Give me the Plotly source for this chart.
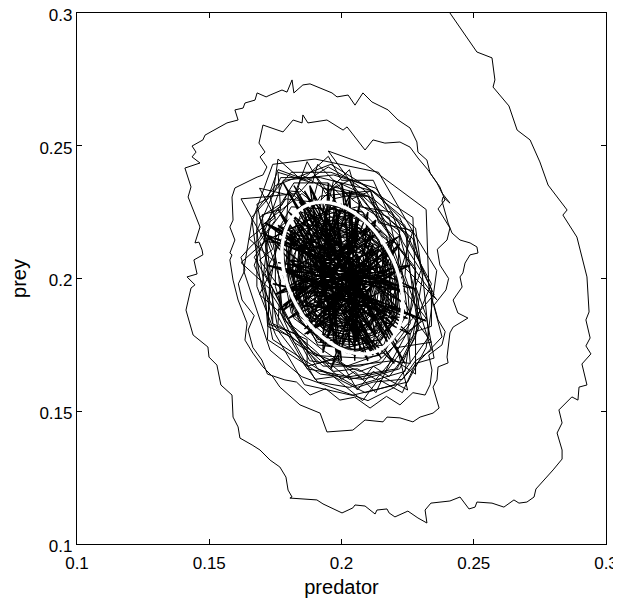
import plotly.graph_objects as go

# ---- outer ring of the trajectory ----
ring1_predator = [0.2395,0.2410,0.2512,0.2569,0.2580,0.2573,0.2633,0.2664,0.2713,0.2750,
0.2781,0.2853,0.2837,0.2890,0.2928,0.2932,0.2936,0.2924,0.2940,0.2924,
0.2943,0.2909,0.2928,0.2898,0.2894,0.2871,0.2822,0.2834,0.2815,0.2834,
0.2834,0.2800,0.2735,0.2728,0.2701,0.2671,0.2652,0.2614,0.2569,0.2512,
0.2505,0.2482,0.2448,0.2410,0.2338,0.2316,0.2323,0.2289,0.2251,0.2202,
0.2180,0.2172,0.2134,0.2127,0.2089,0.2051,0.2043,0.2002,0.1930,0.1907,
0.1805,0.1813,0.1798,0.1790,0.1767,0.1730,0.1692,0.1662,0.1616,0.1609,
0.1590,0.1586,0.1544,0.1529,0.1499,0.1495,0.1439,0.1412,0.1431,0.1446,
0.1416,0.1454,0.1442,0.1476,0.1473,0.1461,0.1446,0.1465,0.1435,0.1420,
0.1431,0.1408,0.1465,0.1435,0.1450,0.1435,0.1476,0.1484,0.1567,0.1609,
0.1597,0.1628,0.1635,0.1673,0.1681,0.1715,0.1730,0.1775,0.1794,0.1813,
0.1820,0.1854,0.1881]
ring1_prey = [0.3038,0.3000,0.2853,0.2831,0.2748,0.2721,0.2650,0.2559,0.2522,0.2439,
0.2352,0.2258,0.2239,0.2156,0.2006,0.1930,0.1874,0.1844,0.1776,0.1746,
0.1716,0.1678,0.1599,0.1591,0.1542,0.1554,0.1505,0.1456,0.1418,0.1354,
0.1320,0.1279,0.1207,0.1177,0.1158,0.1154,0.1166,0.1139,0.1154,0.1158,
0.1139,0.1132,0.1177,0.1162,0.1154,0.1128,0.1079,0.1098,0.1124,0.1102,
0.1117,0.1132,0.1128,0.1113,0.1143,0.1147,0.1136,0.1117,0.1151,0.1166,
0.1173,0.1177,0.1203,0.1252,0.1290,0.1316,0.1354,0.1373,0.1399,0.1441,
0.1478,0.1561,0.1599,0.1674,0.1704,0.1742,0.1787,0.1881,0.1964,0.1976,
0.2006,0.2017,0.2070,0.2089,0.2107,0.2137,0.2134,0.2194,0.2269,0.2307,
0.2345,0.2416,0.2435,0.2458,0.2476,0.2499,0.2522,0.2540,0.2586,0.2597,
0.2635,0.2642,0.2661,0.2672,0.2699,0.2684,0.2691,0.2710,0.2702,0.2748,
0.2699,0.2729,0.2733]

# ---- second ring ----
ring2_predator = [0.1964,0.1983,0.2025,0.2051,0.2081,0.2115,0.2176,0.2214,0.2259,0.2285,
0.2289,0.2323,0.2335,0.2361,0.2380,0.2410,0.2384,0.2380,0.2391,0.2403,
0.2418,0.2448,0.2486,0.2512,0.2516,0.2486,0.2467,0.2459,0.2448,0.2456,
0.2422,0.2440,0.2478,0.2448,0.2422,0.2410,0.2399,0.2403,0.2365,0.2361,
0.2346,0.2369,0.2346,0.2297,0.2270,0.2221,0.2172,0.2157,0.2089,0.2043,
0.1945,0.1919,0.1843,0.1767,0.1741,0.1703,0.1665,0.1635,0.1643,0.1609,
0.1590,0.1578,0.1586,0.1578,0.1597,0.1578,0.1590,0.1586,0.1597,0.1681,
0.1703,0.1718,0.1692,0.1711,0.1688,0.1703,0.1779,0.1817,0.1851,0.1854,
0.1873,0.1945,0.2006,0.2021,0.2059,0.2089,0.2119,0.2164,0.2221,0.2259,
0.2289,0.2327,0.2346,0.2372]
ring2_prey = [0.2699,0.2684,0.2691,0.2653,0.2699,0.2665,0.2635,0.2597,0.2567,0.2514,
0.2476,0.2446,0.2397,0.2360,0.2322,0.2284,0.2307,0.2292,0.2247,0.2209,
0.2171,0.2145,0.2134,0.2119,0.2096,0.2089,0.2058,0.2021,0.2006,0.1968,
0.1919,0.1870,0.1851,0.1832,0.1817,0.1795,0.1704,0.1682,0.1667,0.1618,
0.1591,0.1512,0.1493,0.1478,0.1460,0.1475,0.1478,0.1460,0.1467,0.1429,
0.1422,0.1493,0.1524,0.1591,0.1629,0.1667,0.1719,0.1768,0.1832,0.1919,
0.1994,0.2070,0.2089,0.2096,0.2145,0.2194,0.2220,0.2307,0.2341,0.2382,
0.2390,0.2420,0.2458,0.2476,0.2510,0.2578,0.2552,0.2597,0.2586,0.2616,
0.2586,0.2597,0.2559,0.2571,0.2522,0.2484,0.2522,0.2510,0.2514,0.2495,
0.2454,0.2409,0.2382,0.2345]

# ---- third ring ----
ring3_predator = [0.2391,0.2365,0.2380,0.2410,0.2399,0.2362,0.2372,0.2405,0.2395,0.2350,
0.2365,0.2392,0.2380,0.2330,0.2342,0.2335,0.2316,0.2270,0.2221,0.2170,
0.2108,0.2050,0.1994,0.1940,0.1881,0.1830,0.1786,0.1720,0.1699,0.1665,
0.1647,0.1670,0.1624,0.1610,0.1635,0.1620,0.1662,0.1690,0.1711,0.1740,
0.1775,0.1800,0.1843,0.1900]
ring3_prey = [0.2296,0.2262,0.2239,0.2190,0.2145,0.2110,0.2051,0.2000,0.1957,0.1900,
0.1844,0.1800,0.1750,0.1712,0.1655,0.1600,0.1561,0.1570,0.1524,0.1556,
0.1512,0.1553,0.1542,0.1585,0.1561,0.1610,0.1618,0.1640,0.1693,0.1740,
0.1806,0.1860,0.1919,0.1980,0.2032,0.2080,0.2126,0.2150,0.2202,0.2250,
0.2277,0.2330,0.2326,0.2390]

# ---- jagged fringe loops just outside the white orbit ----
fringe_predator = [
0.232,0.225,0.226,0.219,0.213,0.206,0.197,0.191,0.184,0.178,0.173,0.172,
0.169,0.175,0.173,0.183,0.185,0.195,0.203,0.208,0.218,0.220,0.228,0.228,
0.230,0.234,0.228,0.223,0.212,0.206,0.199,0.191,0.183,0.172,0.171,0.167,
0.171,0.168,0.172,0.176,0.187,0.195,0.202,0.209,0.216,0.227,0.230,0.234,
0.234,0.228,0.228,0.219,0.213,0.205,0.200,0.190,0.182,0.177,0.169,0.175,
0.165,0.175,0.169,0.182,0.187,0.194,0.203,0.207,0.219,0.223,0.230,0.228,
0.232,0.235,0.228,0.223,0.214,0.208,0.197,0.190,0.181,0.172,0.173,0.162,
0.171,0.162,0.174,0.176,0.185,0.195,0.200,0.212,0.218,0.227,0.230,0.235,
0.229,0.228,0.224,0.218,0.212,0.208,0.197,0.191,0.183,0.177,0.177,0.169,
0.174,0.169,0.177,0.182,0.187,0.195,0.200,0.210,0.217,0.222,0.226,0.228,
0.226,0.234,0.221,0.225,0.212,0.206,0.199,0.187,0.187,0.174,0.174,0.167,
0.171,0.170,0.177,0.176,0.189,0.191,0.204,0.211,0.214,0.227,0.223,0.236]
fringe_prey = [
0.185,0.180,0.168,0.169,0.162,0.166,0.165,0.172,0.178,0.187,0.195,0.206,
0.214,0.222,0.231,0.232,0.239,0.233,0.237,0.227,0.223,0.214,0.204,0.196,
0.186,0.173,0.169,0.162,0.161,0.159,0.163,0.166,0.179,0.183,0.196,0.205,
0.215,0.228,0.230,0.241,0.237,0.242,0.238,0.233,0.224,0.215,0.205,0.196,
0.182,0.180,0.164,0.170,0.157,0.165,0.162,0.171,0.176,0.187,0.194,0.206,
0.215,0.223,0.234,0.231,0.244,0.232,0.241,0.227,0.225,0.214,0.203,0.197,
0.186,0.170,0.168,0.157,0.162,0.154,0.163,0.162,0.178,0.182,0.196,0.206,
0.214,0.230,0.231,0.245,0.237,0.246,0.237,0.237,0.224,0.217,0.204,0.194,
0.187,0.178,0.171,0.163,0.167,0.162,0.170,0.168,0.178,0.187,0.196,0.207,
0.211,0.223,0.228,0.236,0.236,0.236,0.231,0.231,0.221,0.216,0.202,0.194,
0.187,0.176,0.174,0.158,0.165,0.158,0.170,0.167,0.177,0.183,0.196,0.208,
0.214,0.224,0.226,0.240,0.236,0.243,0.230,0.233,0.221,0.218,0.205,0.192]

# ---- dense scribble around the equilibrium (one line per loop) ----
dense_predator = [
0.195,0.209,0.232,0.233,0.238,0.220,0.210,0.185,0.173,0.163,0.166,0.174,
0.190,0.214,0.225,0.236,0.232,0.225,0.204,0.186,0.175,0.168,0.168,0.175,
0.196,0.209,0.228,0.231,0.233,0.220,0.209,0.191,0.174,0.169,0.166,0.181,
0.196,0.207,0.227,0.228,0.229,0.222,0.208,0.192,0.172,0.173,0.171,0.178,
0.197,0.213,0.221,0.234,0.226,0.224,0.203,0.191,0.174,0.170,0.168,0.177,
0.192,0.212,0.222,0.231,0.227,0.221,0.203,0.187,0.178,0.170,0.173,0.179,
0.196,0.208,0.215,0.222,0.220,0.216,0.203,0.194,0.184,0.179,0.178,0.189,
0.195,0.204,0.214,0.213,0.217,0.209,0.205,0.193,0.188,0.182,0.185,0.188,
0.200,0.203,0.210,0.211,0.212,0.207,0.201,0.197,0.190,0.189,0.188,0.194,
0.198,0.208,0.214,0.220,0.215,0.212,0.206,0.191,0.187,0.181,0.180,0.191,
0.197,0.205,0.207,0.208,0.208,0.204,0.199,0.195,0.193,0.192,0.191,0.196,
0.199,0.203,0.215,0.217,0.214,0.211,0.201,0.196,0.185,0.187,0.186,0.192,
0.197,0.212,0.224,0.226,0.229,0.217,0.203,0.193,0.176,0.172,0.171,0.184,
0.194,0.206,0.218,0.220,0.221,0.213,0.202,0.195,0.183,0.178,0.182,0.187,
0.196,0.206,0.210,0.215,0.212,0.209,0.201,0.198,0.187,0.186,0.187,0.189,
0.199,0.202,0.209,0.212,0.206,0.209,0.203,0.195,0.196,0.190,0.190,0.195,
0.197,0.204,0.217,0.216,0.218,0.213,0.205,0.192,0.186,0.181,0.183,0.186,
0.201,0.204,0.206,0.205,0.207,0.203,0.200,0.196,0.194,0.193,0.193,0.197,
0.195,0.207,0.211,0.218,0.219,0.208,0.204,0.197,0.184,0.184,0.185,0.191,
0.193,0.210,0.219,0.228,0.225,0.219,0.203,0.188,0.180,0.173,0.177,0.181,
0.197,0.209,0.215,0.222,0.219,0.214,0.206,0.191,0.182,0.180,0.181,0.189,
0.197,0.203,0.211,0.211,0.213,0.207,0.200,0.194,0.193,0.188,0.187,0.193,
0.198,0.206,0.214,0.212,0.218,0.210,0.205,0.193,0.189,0.185,0.184,0.193,
0.194,0.207,0.216,0.219,0.216,0.213,0.202,0.196,0.183,0.183,0.184,0.187,
0.196,0.206,0.205,0.213,0.210,0.206,0.204,0.198,0.191,0.187,0.192,0.191,
0.195,0.205,0.219,0.218,0.220,0.211,0.207,0.195,0.185,0.178,0.180,0.188,
0.191,0.207,0.225,0.224,0.230,0.214,0.207,0.193,0.176,0.177,0.170,0.185,
0.199,0.204,0.213,0.214,0.216,0.209,0.201,0.194,0.187,0.185,0.184,0.190,
0.195,0.202,0.212,0.210,0.212,0.210,0.204,0.194,0.191,0.189,0.188,0.190,
0.199,0.209,0.212,0.221,0.219,0.212,0.203,0.192,0.184,0.180,0.180,0.185,
0.200,0.204,0.207,0.210,0.207,0.206,0.200,0.198,0.191,0.194,0.189,0.193,
0.197,0.203,0.216,0.215,0.217,0.212,0.201,0.197,0.186,0.182,0.185,0.188,
0.198,0.206,0.217,0.221,0.222,0.214,0.205,0.193,0.182,0.179,0.177,0.187,
0.192,0.211,0.217,0.225,0.226,0.215,0.207,0.189,0.182,0.171,0.179,0.180,
0.199,0.205,0.208,0.213,0.210,0.208,0.201,0.197,0.188,0.191,0.189,0.192,
0.198,0.207,0.213,0.214,0.215,0.209,0.204,0.193,0.189,0.186,0.185,0.192,
0.195,0.208,0.216,0.218,0.219,0.215,0.205,0.191,0.185,0.182,0.181,0.189,
0.198,0.202,0.207,0.206,0.207,0.205,0.202,0.195,0.194,0.193,0.192,0.196,
0.199,0.206,0.211,0.217,0.215,0.212,0.202,0.196,0.188,0.183,0.186,0.188,
0.197,0.205,0.217,0.223,0.216,0.213,0.206,0.191,0.184,0.180,0.179,0.184,
0.198,0.205,0.222,0.221,0.227,0.214,0.208,0.190,0.178,0.176,0.174,0.186,
0.196,0.205,0.210,0.211,0.211,0.206,0.203,0.195,0.191,0.189,0.188,0.194,
0.198,0.205,0.215,0.217,0.218,0.211,0.204,0.193,0.185,0.181,0.182,0.190,
0.196,0.203,0.213,0.215,0.213,0.210,0.201,0.197,0.186,0.190,0.187,0.189,
0.194,0.208,0.215,0.222,0.221,0.215,0.202,0.194,0.181,0.179,0.181,0.185,
0.200,0.206,0.209,0.214,0.211,0.209,0.204,0.194,0.192,0.187,0.188,0.190,
0.195,0.207,0.211,0.217,0.215,0.211,0.204,0.193,0.188,0.184,0.186,0.191,
0.197,0.206,0.221,0.223,0.225,0.216,0.202,0.193,0.179,0.175,0.175,0.186]
dense_prey = [
0.248,0.243,0.226,0.197,0.178,0.159,0.154,0.163,0.173,0.203,0.221,0.243,
0.245,0.240,0.221,0.203,0.174,0.161,0.156,0.160,0.179,0.197,0.226,0.235,
0.243,0.235,0.219,0.198,0.178,0.160,0.157,0.166,0.177,0.201,0.223,0.240,
0.240,0.236,0.223,0.197,0.181,0.166,0.162,0.164,0.177,0.203,0.218,0.237,
0.239,0.234,0.222,0.198,0.179,0.165,0.159,0.161,0.183,0.202,0.218,0.238,
0.238,0.233,0.223,0.203,0.178,0.166,0.163,0.166,0.182,0.197,0.222,0.230,
0.228,0.225,0.212,0.203,0.186,0.175,0.173,0.175,0.184,0.198,0.213,0.224,
0.221,0.219,0.213,0.202,0.190,0.181,0.178,0.181,0.190,0.199,0.211,0.219,
0.216,0.213,0.209,0.198,0.194,0.186,0.184,0.188,0.192,0.201,0.206,0.212,
0.226,0.222,0.215,0.197,0.191,0.176,0.178,0.179,0.186,0.202,0.210,0.221,
0.212,0.211,0.203,0.198,0.195,0.189,0.190,0.192,0.195,0.202,0.206,0.208,
0.223,0.218,0.210,0.202,0.188,0.183,0.180,0.181,0.190,0.198,0.213,0.215,
0.237,0.230,0.220,0.202,0.181,0.165,0.162,0.170,0.181,0.202,0.216,0.234,
0.224,0.227,0.215,0.201,0.185,0.174,0.172,0.178,0.188,0.203,0.215,0.222,
0.220,0.215,0.212,0.199,0.192,0.184,0.182,0.187,0.191,0.201,0.208,0.217,
0.210,0.214,0.205,0.201,0.194,0.189,0.187,0.190,0.197,0.198,0.207,0.213,
0.224,0.221,0.211,0.198,0.189,0.179,0.177,0.178,0.185,0.201,0.212,0.222,
0.209,0.207,0.204,0.199,0.196,0.192,0.191,0.193,0.197,0.202,0.205,0.207,
0.222,0.219,0.209,0.201,0.190,0.182,0.180,0.182,0.187,0.202,0.210,0.219,
0.234,0.231,0.215,0.203,0.180,0.169,0.167,0.169,0.184,0.198,0.220,0.227,
0.226,0.223,0.216,0.199,0.184,0.177,0.175,0.176,0.188,0.198,0.216,0.220,
0.218,0.217,0.207,0.202,0.192,0.185,0.183,0.187,0.191,0.202,0.209,0.213,
0.219,0.216,0.212,0.197,0.191,0.183,0.181,0.183,0.188,0.199,0.212,0.218,
0.226,0.220,0.210,0.203,0.186,0.180,0.177,0.179,0.189,0.197,0.214,0.217,
0.214,0.212,0.208,0.199,0.196,0.186,0.190,0.186,0.193,0.203,0.204,0.211,
0.227,0.224,0.213,0.198,0.183,0.176,0.173,0.175,0.183,0.201,0.212,0.225,
0.236,0.232,0.216,0.201,0.184,0.169,0.167,0.167,0.183,0.199,0.220,0.232,
0.221,0.217,0.208,0.201,0.189,0.180,0.181,0.184,0.189,0.202,0.208,0.216,
0.216,0.212,0.212,0.201,0.190,0.186,0.183,0.185,0.192,0.197,0.211,0.215,
0.225,0.221,0.214,0.202,0.187,0.178,0.174,0.179,0.186,0.203,0.211,0.221,
0.212,0.210,0.205,0.202,0.193,0.190,0.188,0.189,0.195,0.199,0.205,0.210,
0.222,0.219,0.214,0.197,0.190,0.181,0.179,0.180,0.186,0.201,0.213,0.220,
0.228,0.224,0.216,0.198,0.188,0.176,0.171,0.177,0.185,0.202,0.212,0.223,
0.231,0.233,0.219,0.196,0.183,0.168,0.165,0.172,0.181,0.202,0.218,0.233,
0.217,0.213,0.210,0.202,0.191,0.187,0.184,0.186,0.193,0.202,0.208,0.214,
0.215,0.219,0.211,0.198,0.192,0.181,0.184,0.182,0.189,0.199,0.211,0.219,
0.223,0.224,0.213,0.202,0.188,0.180,0.176,0.177,0.188,0.198,0.213,0.224,
0.207,0.212,0.206,0.201,0.197,0.192,0.190,0.190,0.195,0.198,0.206,0.211,
0.222,0.215,0.213,0.198,0.187,0.184,0.180,0.181,0.186,0.201,0.212,0.218,
0.227,0.226,0.215,0.201,0.186,0.175,0.173,0.175,0.189,0.199,0.214,0.222,
0.235,0.229,0.218,0.197,0.185,0.171,0.170,0.171,0.185,0.203,0.214,0.229,
0.215,0.216,0.208,0.197,0.193,0.187,0.185,0.189,0.193,0.202,0.206,0.212,
0.223,0.220,0.212,0.201,0.190,0.179,0.176,0.181,0.190,0.202,0.209,0.222,
0.218,0.216,0.209,0.202,0.189,0.185,0.182,0.183,0.191,0.199,0.212,0.214,
0.228,0.225,0.212,0.202,0.187,0.177,0.174,0.175,0.187,0.197,0.215,0.225,
0.218,0.213,0.211,0.199,0.189,0.187,0.184,0.186,0.192,0.201,0.210,0.212,
0.220,0.217,0.210,0.199,0.190,0.182,0.181,0.184,0.187,0.201,0.213,0.215,
0.230,0.232,0.214,0.202,0.187,0.172,0.167,0.173,0.184,0.197,0.218,0.227]

# ---- long criss-cross strokes through the dark centre ----
cross_predator = [
0.223,0.172,0.220,0.171,0.222,0.176,0.221,0.184,0.213,0.182,
0.218,0.188,0.212,0.176,0.213,0.200,0.207,0.201,0.205,0.210,
0.192,0.195,0.197,0.222,0.186,0.220,0.192,0.225,0.180,0.213,
0.185,0.225,0.182,0.232,0.176,0.226,0.176,0.228,0.181,0.220,
0.183,0.215,0.182,0.210,0.194,0.224,0.185,0.200,0.193,0.199,
0.194,0.193,0.206,0.205,0.204,0.178,0.211,0.176,0.215,0.175,
0.221,0.187,0.212,0.171,
0.200,0.187,0.206,0.192,0.212,0.196,0.218,0.178,0.215,0.175,
0.214,0.180,0.219,0.186,0.220,0.176,0.215,0.170,0.224,0.172,
0.224,0.174,0.219,0.171,0.223,0.180,0.220,0.176,0.213,0.172,
0.214,0.183,0.221,0.186,0.213,0.178,0.212,0.177,0.205,0.197,
0.206,0.203,0.203,0.197,0.198,0.188,0.196,0.207,0.200,0.213,
0.195,0.207,0.190,0.204,0.181,0.221,0.185,0.226,0.185,0.222,
0.181,0.213,0.179,0.224]
cross_prey = [
0.195,0.215,0.198,0.221,0.184,0.204,0.189,0.229,0.184,0.235,
0.175,0.235,0.171,0.226,0.178,0.236,0.173,0.228,0.174,0.225,
0.182,0.236,0.176,0.213,0.181,0.214,0.185,0.205,0.195,0.222,
0.190,0.185,0.205,0.184,0.204,0.179,0.220,0.196,0.207,0.168,
0.222,0.170,0.222,0.169,0.224,0.168,0.229,0.169,0.228,0.169,
0.225,0.172,0.221,0.169,0.225,0.188,0.213,0.188,0.218,0.194,
0.206,0.179,0.209,0.214,
0.228,0.181,0.221,0.176,0.213,0.166,0.210,0.190,0.218,0.194,
0.211,0.185,0.204,0.179,0.198,0.206,0.201,0.217,0.195,0.205,
0.188,0.198,0.187,0.221,0.191,0.225,0.182,0.219,0.184,0.216,
0.171,0.232,0.176,0.233,0.178,0.236,0.173,0.224,0.174,0.232,
0.177,0.233,0.174,0.234,0.172,0.235,0.181,0.229,0.173,0.222,
0.178,0.224,0.188,0.233,0.189,0.211,0.185,0.205,0.189,0.216,
0.195,0.220,0.203,0.197]

# ---- white reference orbit ----
orbit_predator = [0.2227,0.2208,0.2174,0.2130,0.2076,0.2018,0.1958,0.1902,0.1852,0.1813,
0.1787,0.1775,0.1779,0.1798,0.1832,0.1876,0.1930,0.1989,0.2048,0.2105,
0.2154,0.2193,0.2220,0.2231,0.2227]
orbit_prey = [0.1962,0.2037,0.2109,0.2174,0.2227,0.2265,0.2285,0.2286,0.2267,0.2230,
0.2178,0.2114,0.2042,0.1967,0.1895,0.1830,0.1777,0.1739,0.1719,0.1718,
0.1737,0.1774,0.1826,0.1891,0.1962]

tick_vals = [0.1, 0.15, 0.2, 0.25, 0.3]
tick_text = ["0.1", "0.15", "0.2", "0.25", "0.3"]

predator = (ring1_predator + ring2_predator + ring3_predator + fringe_predator
            + dense_predator)
prey = ring1_prey + ring2_prey + ring3_prey + fringe_prey + dense_prey

fig = go.Figure()
fig.add_trace(go.Scatter(x=predator, y=prey, mode="lines",
                         line=dict(color="black", width=1), hoverinfo="skip"))
fig.add_trace(go.Scatter(x=cross_predator, y=cross_prey, mode="lines",
                         line=dict(color="black", width=1.4), hoverinfo="skip"))
fig.add_trace(go.Scatter(x=orbit_predator, y=orbit_prey, mode="lines",
                         line=dict(color="white", width=3.5, shape="spline"),
                         hoverinfo="skip"))

axis_common = dict(
    tickvals=tick_vals, ticktext=tick_text, ticks="inside", ticklen=5,
    tickcolor="black", tickwidth=1, showline=True, linecolor="black",
    linewidth=1.2, mirror="ticks", showgrid=False, zeroline=False,
    tickfont=dict(size=17, color="black"), automargin=False,
    ticklabeloverflow="allow",
)
# the page body adds an 8 px offset, so the figure is sized to fit the window
fig.update_layout(
    width=613, height=591,
    margin=dict(l=69, r=15, t=5, b=55),
    paper_bgcolor="white", plot_bgcolor="white",
    showlegend=False,
    font=dict(family="Liberation Sans, Arial, sans-serif", size=17, color="black"),
    xaxis=dict(range=[0.1, 0.3], title=dict(text="predator", font=dict(size=20), standoff=8),
               ticklabelstandoff=3, **axis_common),
    yaxis=dict(range=[0.1, 0.3], title=dict(text="prey", font=dict(size=20), standoff=15),
               ticklabelshift=2, **axis_common),
)
fig.write_html("out.html")
